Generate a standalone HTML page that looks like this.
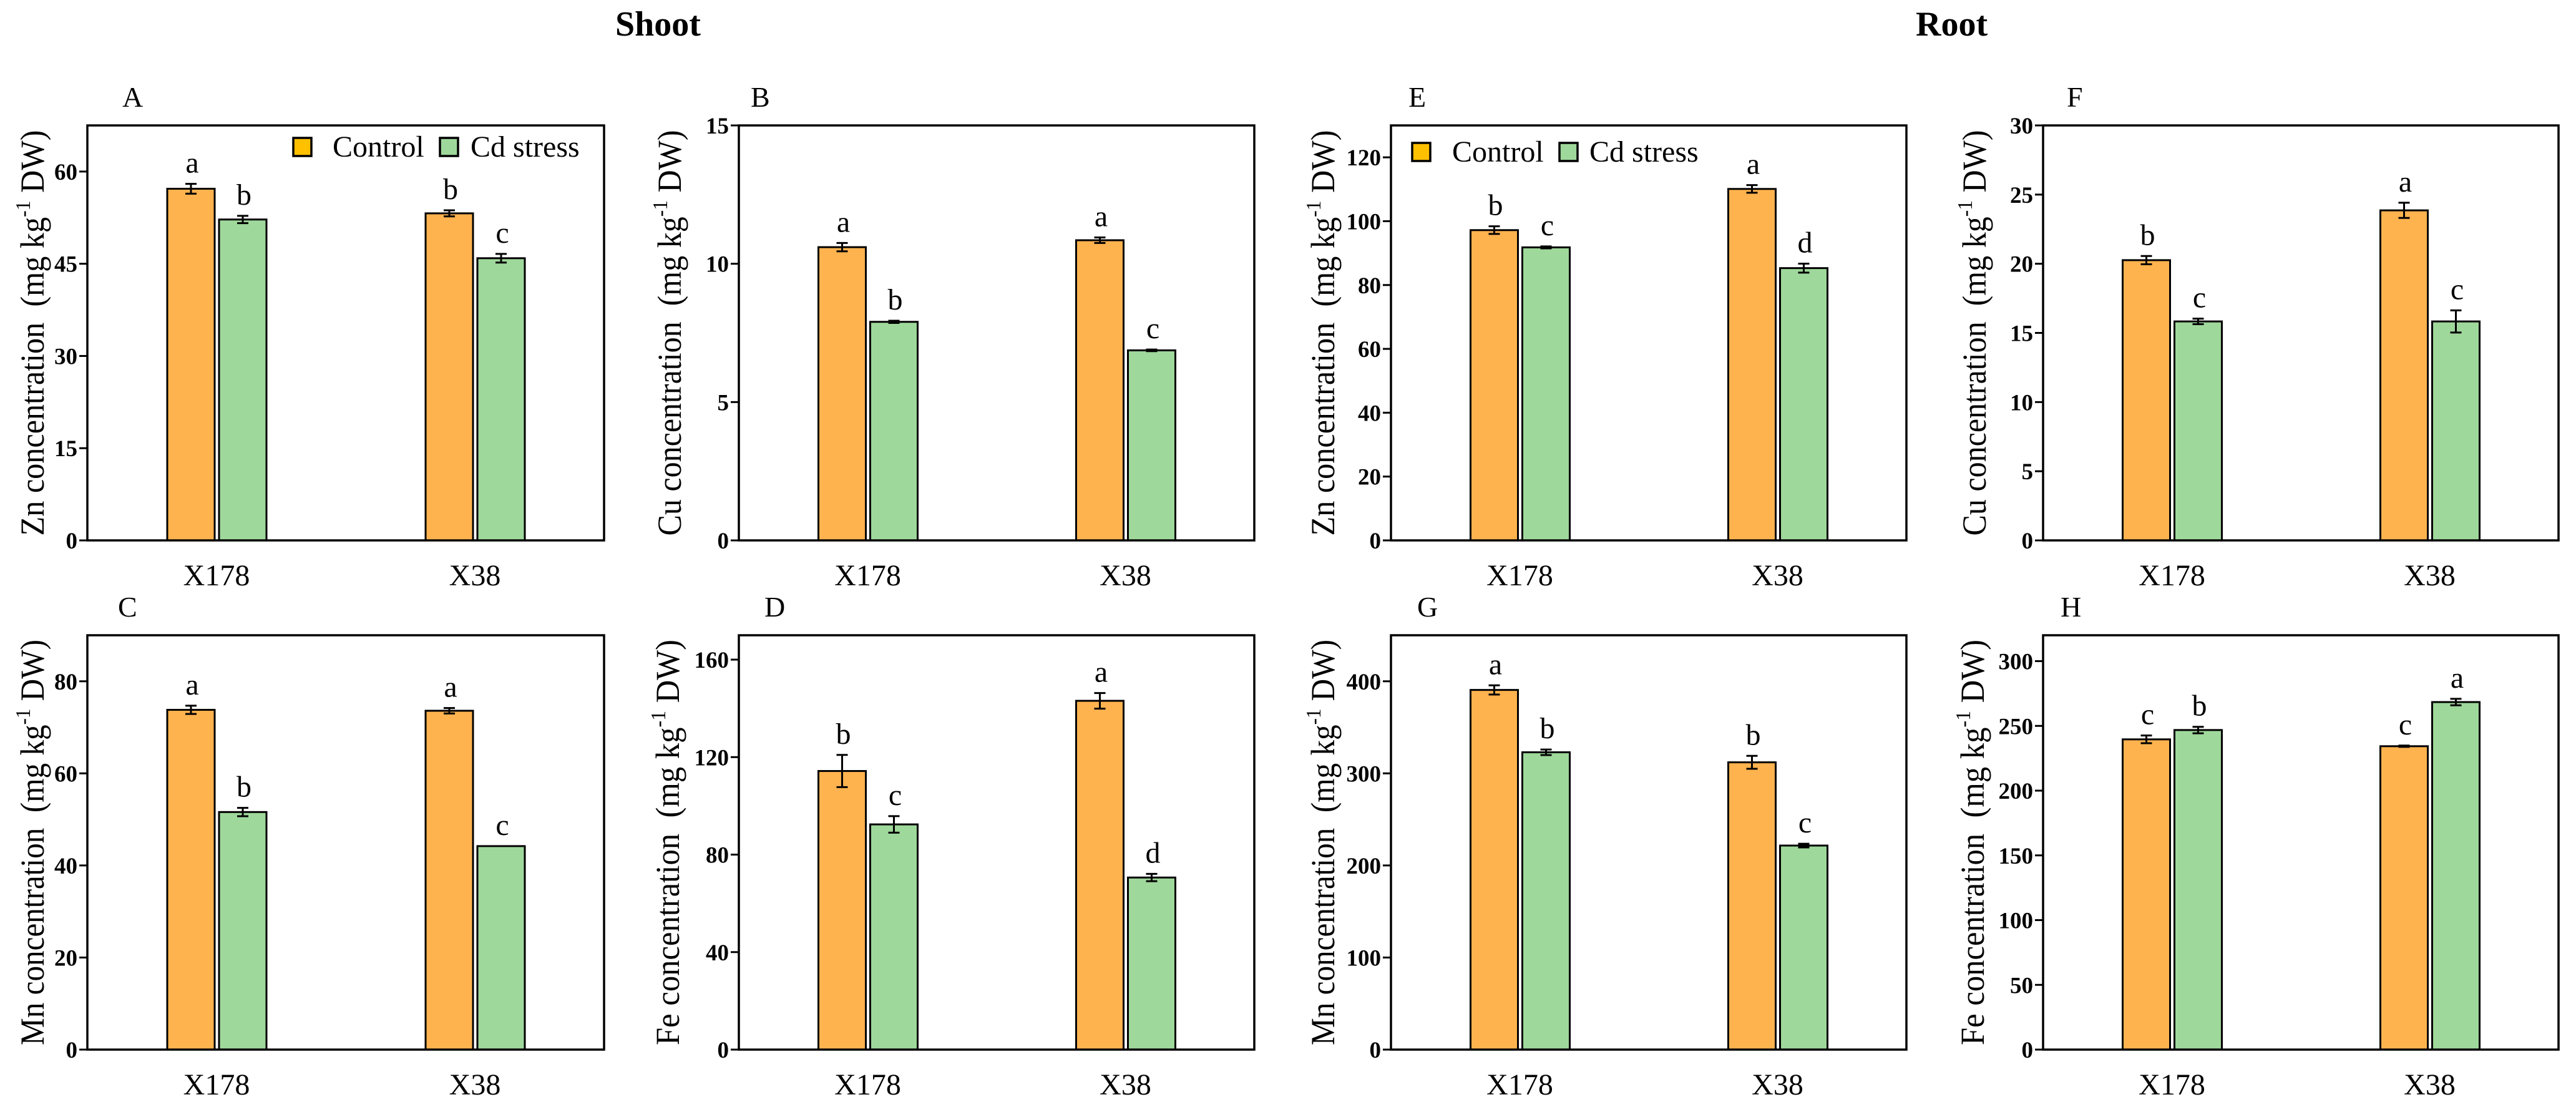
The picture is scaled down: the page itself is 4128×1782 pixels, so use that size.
<!DOCTYPE html>
<html><head><meta charset="utf-8"><style>
html,body{margin:0;padding:0;background:#fff;}
svg{display:block;font-family:"Liberation Serif","Times New Roman",serif;}
</style></head>
<body>
<svg id="fig" width="4128" height="1782" viewBox="0 0 4128 1782" xmlns="http://www.w3.org/2000/svg">
<rect width="4128" height="1782" fill="#fff"/>
<text x="986" y="57" font-size="56" font-weight="bold">Shoot</text>
<text x="3070" y="57" font-size="56" font-weight="bold">Root</text>
</svg>
<script>
const categories = ["X178", "X38"];
const seriesNames = ["Control", "Cd stress"];
// Panel A: shoot Zn
const aControl = [57.2, 53.2];
const aCd = [52.2, 45.9];
const aControlErr = [0.8, 0.5];
const aCdErr = [0.6, 0.7];
const aLettersControl = ["a", "b"];
const aLettersCd = ["b", "c"];
const aTicks = [0, 15, 30, 45, 60];
// Panel B: shoot Cu
const bControl = [10.6, 10.85];
const bCd = [7.9, 6.87];
const bControlErr = [0.15, 0.1];
const bCdErr = [0.04, 0.03];
const bLettersControl = ["a", "a"];
const bLettersCd = ["b", "c"];
const bTicks = [0, 5, 10, 15];
// Panel C: shoot Mn
const cControl = [73.8, 73.6];
const cCd = [51.6, 44.2];
const cControlErr = [0.9, 0.6];
const cCdErr = [0.9, 0];
const cLettersControl = ["a", "a"];
const cLettersCd = ["b", "c"];
const cTicks = [0, 20, 40, 60, 80];
// Panel D: shoot Fe
const dControl = [114.3, 143.1];
const dCd = [92.4, 70.6];
const dControlErr = [6.6, 3.2];
const dCdErr = [3.4, 1.5];
const dLettersControl = ["b", "a"];
const dLettersCd = ["c", "d"];
const dTicks = [0, 40, 80, 120, 160];
// Panel E: root Zn
const eControl = [97.2, 110.1];
const eCd = [91.8, 85.3];
const eControlErr = [1.2, 1.2];
const eCdErr = [0.3, 1.4];
const eLettersControl = ["b", "a"];
const eLettersCd = ["c", "d"];
const eTicks = [0, 20, 40, 60, 80, 100, 120];
// Panel F: root Cu
const fControl = [20.26, 23.86];
const fCd = [15.83, 15.83];
const fControlErr = [0.3, 0.55];
const fCdErr = [0.2, 0.8];
const fLettersControl = ["b", "a"];
const fLettersCd = ["c", "c"];
const fTicks = [0, 5, 10, 15, 20, 25, 30];
// Panel G: root Mn
const gControl = [390.6, 312];
const gCd = [322.9, 221.6];
const gControlErr = [5, 7];
const gCdErr = [3, 2];
const gLettersControl = ["a", "b"];
const gLettersCd = ["b", "c"];
const gTicks = [0, 100, 200, 300, 400];
// Panel H: root Fe
const hControl = [239.6, 234.3];
const hCd = [246.8, 268.4];
const hControlErr = [3, 0.5];
const hCdErr = [2.5, 2.5];
const hLettersControl = ["c", "c"];
const hLettersCd = ["b", "a"];
const hTicks = [0, 50, 100, 150, 200, 250, 300];

const NS = "http://www.w3.org/2000/svg";
const svg = document.getElementById("fig");
function mk(tag, attrs, parent, text) {
  const e = document.createElementNS(NS, tag);
  for (const k in attrs) e.setAttribute(k, attrs[k]);
  if (text !== undefined) e.textContent = text;
  (parent || svg).appendChild(e);
  return e;
}

const TOP = [201, 866], BOT = [1018, 1682];
const panels = [
  {id:"a", letter:"A", el:"Zn", x0:140, x1:968, row:TOP, ymax:67.5, ticks:aTicks, ctl:aControl, cd:aCd, ce:aControlErr, de:aCdErr, lc:aLettersControl, ld:aLettersCd, lx:196, toff:70, legend:{box1:470, t1:533, box2:705, t2:754, y:221}},
  {id:"b", letter:"B", el:"Cu", x0:1184, x1:2010, row:TOP, ymax:15, ticks:bTicks, ctl:bControl, cd:bCd, ce:bControlErr, de:bCdErr, lc:bLettersControl, ld:bLettersCd, lx:1203, toff:93},
  {id:"c", letter:"C", el:"Mn", x0:140, x1:968, row:BOT, ymax:90, ticks:cTicks, ctl:cControl, cd:cCd, ce:cControlErr, de:cCdErr, lc:cLettersControl, ld:cLettersCd, lx:189, toff:70},
  {id:"d", letter:"D", el:"Fe", x0:1184, x1:2010, row:BOT, ymax:170, ticks:dTicks, ctl:dControl, cd:dCd, ce:dControlErr, de:dCdErr, lc:dLettersControl, ld:dLettersCd, lx:1225, toff:96},
  {id:"e", letter:"E", el:"Zn", x0:2229, x1:3055, row:TOP, ymax:130, ticks:eTicks, ctl:eControl, cd:eCd, ce:eControlErr, de:eCdErr, lc:eLettersControl, ld:eLettersCd, lx:2257, toff:91, legend:{box1:2263, t1:2327, box2:2499, t2:2547, y:229}},
  {id:"f", letter:"F", el:"Cu", x0:3274, x1:4100, row:TOP, ymax:30, ticks:fTicks, ctl:fControl, cd:fCd, ce:fControlErr, de:fCdErr, lc:fLettersControl, ld:fLettersCd, lx:3312, toff:92},
  {id:"g", letter:"G", el:"Mn", x0:2229, x1:3055, row:BOT, ymax:450, ticks:gTicks, ctl:gControl, cd:gCd, ce:gControlErr, de:gCdErr, lc:gLettersControl, ld:gLettersCd, lx:2271, toff:91},
  {id:"h", letter:"H", el:"Fe", x0:3274, x1:4100, row:BOT, ymax:320, ticks:hTicks, ctl:hControl, cd:hCd, ce:hControlErr, de:hCdErr, lc:hLettersControl, ld:hLettersCd, lx:3302, toff:95}
];

const COL_CTL = "#FFB34F", COL_CD = "#9FD89B";

panels.forEach(p => {
  const g = mk("g", {});
  
  
  const y0 = p.row[0], y1 = p.row[1];
  const yS = v => y1 - (v / p.ymax) * (y1 - y0);
  const xC = i => p.x0 + (p.x1 - p.x0) * (0.25 + 0.5 * i);
  const BW = 76;

  categories.forEach((cat, i) => {
    const c = xC(i);
    [[p.ctl, p.ce, p.lc, COL_CTL, c - 79, "control"], [p.cd, p.de, p.ld, COL_CD, c + 4, "cd-stress"]].forEach(s => {
      const v = s[0][i], err = s[1][i], bx = s[4];
      const r = mk("rect", {x: bx, y: yS(v), width: BW, height: y1 - yS(v), fill: s[3], stroke: "#000", "stroke-width": 3}, g);
      
      
      const mx = bx + BW / 2;
      if (err > 0) {
        const eg = mk("g", {stroke: "#000", "stroke-width": 3}, g);
        
        
        mk("line", {x1: mx, x2: mx, y1: yS(v + err), y2: yS(v - err)}, eg);
        mk("line", {x1: mx - 9, x2: mx + 9, y1: yS(v + err), y2: yS(v + err)}, eg);
        mk("line", {x1: mx - 9, x2: mx + 9, y1: yS(v - err), y2: yS(v - err)}, eg);
      }
      const lt = mk("text", {x: mx + 2, y: yS(v + err) - 18, "font-size": 48, "text-anchor": "middle"}, g, s[2][i]);
      
      
    });
    const xl = mk("text", {x: c, y: y1 + 72, "font-size": 48, "text-anchor": "middle"}, g, cat);
    
    
  });

  const frame = mk("rect", {x: p.x0, y: y0, width: p.x1 - p.x0, height: y1 - y0, fill: "none", stroke: "#000", "stroke-width": 3.5}, g);
  
  

  p.ticks.forEach(t => {
    const ty = yS(t);
    mk("line", {x1: p.x0 - 13, x2: p.x0, y1: ty, y2: ty, stroke: "#000", "stroke-width": 3}, g);
    const tl = mk("text", {x: p.x0 - 16, y: ty + 13, "font-size": 37, "font-weight": "bold", "text-anchor": "end"}, g, String(t));
    
    
  });

  const tx = p.x0 - p.toff;
  const ym = (y0 + y1) / 2;
  const yt = mk("text", {x: tx, y: ym, "font-size": 54, "text-anchor": "middle", textLength: 650, lengthAdjust: "spacingAndGlyphs", transform: "rotate(-90 " + tx + " " + ym + ")"}, g);
  
  
  mk("tspan", {}, yt, p.el + " concentration\u00a0\u00a0(mg kg");
  mk("tspan", {dy: -22, "font-size": 34}, yt, "-1");
  mk("tspan", {dy: 22}, yt, " DW)");

  const pl = mk("text", {x: p.lx, y: y0 - 30, "font-size": 46}, g, p.letter);
  
  

  if (p.legend) {
    const L = p.legend;
    const lg = mk("g", {}, g);
    
    
    const b1 = mk("rect", {x: L.box1, y: L.y, width: 29, height: 29, fill: "#FFC000", stroke: "#000", "stroke-width": 3.5}, lg);
    
    
    const t1 = mk("text", {x: L.t1, y: L.y + 30, "font-size": 48}, lg, seriesNames[0]);
    
    
    const b2 = mk("rect", {x: L.box2, y: L.y, width: 29, height: 29, fill: COL_CD, stroke: "#000", "stroke-width": 3.5}, lg);
    
    
    const t2 = mk("text", {x: L.t2, y: L.y + 30, "font-size": 48}, lg, seriesNames[1]);
    
    
  }
});
</script>
</body></html>
